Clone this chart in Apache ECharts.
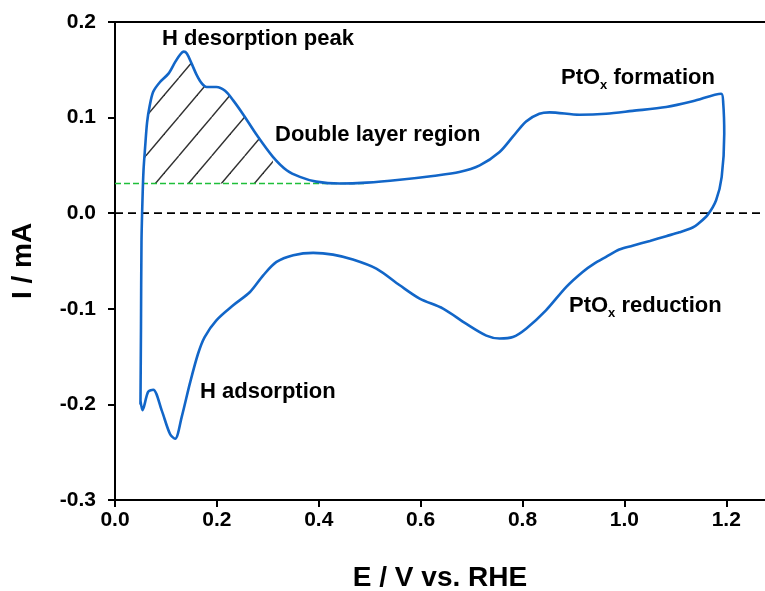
<!DOCTYPE html>
<html>
<head>
<meta charset="utf-8">
<script src="https://cdn.jsdelivr.net/npm/echarts@6/dist/echarts.min.js"></script>
<style>
html,body{margin:0;padding:0;background:#fff;}
#chart{width:765px;height:591px;}
</style>
</head>
<body>
<div id="chart"></div>
<script>
// ---- data (E in V vs. RHE, I in mA) ----
const anodicE = [0.050, 0.051, 0.052, 0.054, 0.056, 0.059, 0.063, 0.068, 0.075, 0.088, 0.105, 0.118, 0.128, 0.135, 0.141, 0.150, 0.160, 0.170, 0.180, 0.199, 0.216, 0.232, 0.252, 0.278, 0.310, 0.337, 0.363, 0.395, 0.441, 0.494, 0.559, 0.624, 0.676, 0.716, 0.755, 0.781, 0.807, 0.833, 0.853, 0.912, 0.964, 1.016, 1.082, 1.134, 1.190];
const anodicI = [-0.200, -0.120, -0.030, 0.015, 0.045, 0.068, 0.095, 0.112, 0.127, 0.137, 0.146, 0.158, 0.166, 0.169, 0.167, 0.157, 0.145, 0.136, 0.132, 0.132, 0.128, 0.118, 0.103, 0.082, 0.059, 0.045, 0.038, 0.033, 0.031, 0.032, 0.035, 0.039, 0.043, 0.050, 0.064, 0.080, 0.096, 0.104, 0.1055, 0.103, 0.104, 0.107, 0.111, 0.117, 0.125];
const cathodicE = [1.194, 1.196, 1.191, 1.180, 1.163, 1.145, 1.134, 1.108, 1.082, 1.050, 1.016, 0.990, 0.964, 0.940, 0.918, 0.886, 0.846, 0.807, 0.781, 0.755, 0.729, 0.689, 0.644, 0.598, 0.559, 0.513, 0.467, 0.428, 0.389, 0.350, 0.317, 0.291, 0.265, 0.232, 0.199, 0.176, 0.163, 0.147, 0.131, 0.118, 0.108, 0.0915, 0.075, 0.065, 0.054, 0.050];
const cathodicI = [0.115, 0.083, 0.038, 0.0136, -0.002, -0.011, -0.015, -0.020, -0.024, -0.029, -0.034, -0.038, -0.0457, -0.053, -0.0614, -0.077, -0.1016, -0.1208, -0.1295, -0.131, -0.128, -0.1155, -0.0998, -0.0893, -0.0754, -0.058, -0.0485, -0.0433, -0.0415, -0.044, -0.051, -0.065, -0.0824, -0.0963, -0.112, -0.1295, -0.147, -0.178, -0.213, -0.236, -0.231, -0.206, -0.1846, -0.187, -0.206, -0.196];
const doubleLayerI = 0.031;          // green baseline current
const baselineE = [0.0, 0.49];       // green baseline extent
const hatchStartE = 0.055;           // where anodic rise crosses baseline
const hatchEndE = 0.31;              // hatch region right limit
const zeroE = [0.0, 1.276];
const xTicks = [0.0, 0.2, 0.4, 0.6, 0.8, 1.0, 1.2];
const yTicks = [-0.3, -0.2, -0.1, 0.0, 0.1, 0.2];

// ---- build series data ----
const cvData = [];
anodicE.forEach((e, i) => cvData.push([e, anodicI[i]]));
cathodicE.forEach((e, i) => cvData.push([e, cathodicI[i]]));
cvData.push([anodicE[0], anodicI[0]]);

const hatchData = [[hatchStartE, doubleLayerI]];
anodicE.forEach((e, i) => {
  if (e > hatchStartE && e <= hatchEndE && anodicI[i] >= doubleLayerI) hatchData.push([e, anodicI[i]]);
});

// ---- hatch pattern ----
const tile = document.createElement('canvas');
tile.width = 33; tile.height = 39;
(function () {
  const c = tile.getContext('2d');
  c.strokeStyle = '#303030';
  c.lineWidth = 1.4;
  [0.415, 1.415].forEach(k => {
    c.beginPath();
    c.moveTo(k * 33, 0);
    c.lineTo((k - 1) * 33, 39);
    c.stroke();
  });
})();

const FONT = "'Liberation Sans', Arial, sans-serif";
const fmt = v => {
  const r = Math.round(v * 10) / 10;
  return xTicks.concat(yTicks).some(t => Math.abs(t - r) < 1e-9) && Math.abs(v - r) < 1e-6 ? r.toFixed(1) : '';
};

const chart = echarts.init(document.getElementById('chart'), null, { renderer: 'canvas' });
const labelStyle = { color: '#000', fontFamily: FONT, fontWeight: 'bold', fontSize: 21 };
const annFont = 'bold 22px ' + FONT;
const richSub = {
  a: { fontSize: 22, fontWeight: 'bold', fontFamily: FONT, color: '#000', lineHeight: 28 },
  s: { fontSize: 13, fontWeight: 'bold', fontFamily: FONT, color: '#000', lineHeight: 28, verticalAlign: 'bottom' }
};

chart.setOption({
  animation: false,
  backgroundColor: '#fff',
  grid: { left: 115, right: 0, top: 22, bottom: 91, containLabel: false, outerBoundsMode: 'none' },
  xAxis: [{
    type: 'value', min: 0, max: zeroE[1], interval: 0.2,
    axisLine: { show: true, onZero: false, lineStyle: { color: '#000', width: 2 } },
    axisTick: { show: true, length: 7, lineStyle: { color: '#000', width: 2 } },
    axisLabel: Object.assign({ margin: 10, formatter: fmt, showMaxLabel: false }, labelStyle),
    splitLine: { show: false },
    name: 'E / V vs. RHE', nameLocation: 'middle', nameGap: 64,
    nameTextStyle: { color: '#000', fontFamily: FONT, fontWeight: 'bold', fontSize: 28 }
  }, {
    type: 'value', position: 'top', min: 0, max: zeroE[1],
    axisLine: { show: true, onZero: false, lineStyle: { color: '#000', width: 2 } },
    axisTick: { show: false }, axisLabel: { show: false }, splitLine: { show: false }
  }],
  yAxis: {
    type: 'value', min: -0.3, max: 0.2, interval: 0.1,
    axisLine: { show: true, onZero: false, lineStyle: { color: '#000', width: 2 } },
    axisTick: { show: true, length: 7, lineStyle: { color: '#000', width: 2 } },
    axisLabel: Object.assign({ margin: 19, formatter: fmt }, labelStyle),
    splitLine: { show: false },
    name: 'I / mA', nameLocation: 'middle', nameGap: 78, nameRotate: 90,
    nameTextStyle: { color: '#000', fontFamily: FONT, fontWeight: 'bold', fontSize: 28 }
  },
  series: [
    {
      type: 'line', data: hatchData, smooth: 0.3, showSymbol: false, silent: true, z: 1,
      lineStyle: { width: 0, opacity: 0 },
      areaStyle: { origin: doubleLayerI, color: { image: tile, repeat: 'repeat' }, opacity: 1 }
    },
    {
      type: 'line', data: zeroE.map(e => [e, 0]), showSymbol: false, silent: true, z: 2,
      lineStyle: { color: '#000', width: 1.8, type: [8, 5] }
    },
    {
      type: 'line', data: baselineE.map(e => [e, doubleLayerI]), showSymbol: false, silent: true, z: 2,
      lineStyle: { color: '#1fbf3a', width: 1.5, type: [6, 3] }
    },
    {
      type: 'line', data: cvData, smooth: 0.3, showSymbol: false, silent: true, z: 3,
      lineStyle: { color: '#1266c8', width: 2.6 }
    }
  ],
  graphic: [
    { type: 'text', x: 162, y: 39, style: { text: 'H desorption peak', font: annFont, fill: '#000', verticalAlign: 'middle' } },
    { type: 'text', x: 275, y: 135, style: { text: 'Double layer region', font: annFont, fill: '#000', verticalAlign: 'middle' } },
    { type: 'text', x: 200, y: 392, style: { text: 'H adsorption', font: annFont, fill: '#000', verticalAlign: 'middle' } },
    { type: 'text', x: 561, y: 78, style: { text: '{a|PtO}{s|x}{a| formation}', verticalAlign: 'middle', rich: richSub } },
    { type: 'text', x: 569, y: 306, style: { text: '{a|PtO}{s|x}{a| reduction}', verticalAlign: 'middle', rich: richSub } }
  ]
});
</script>
</body>
</html>
